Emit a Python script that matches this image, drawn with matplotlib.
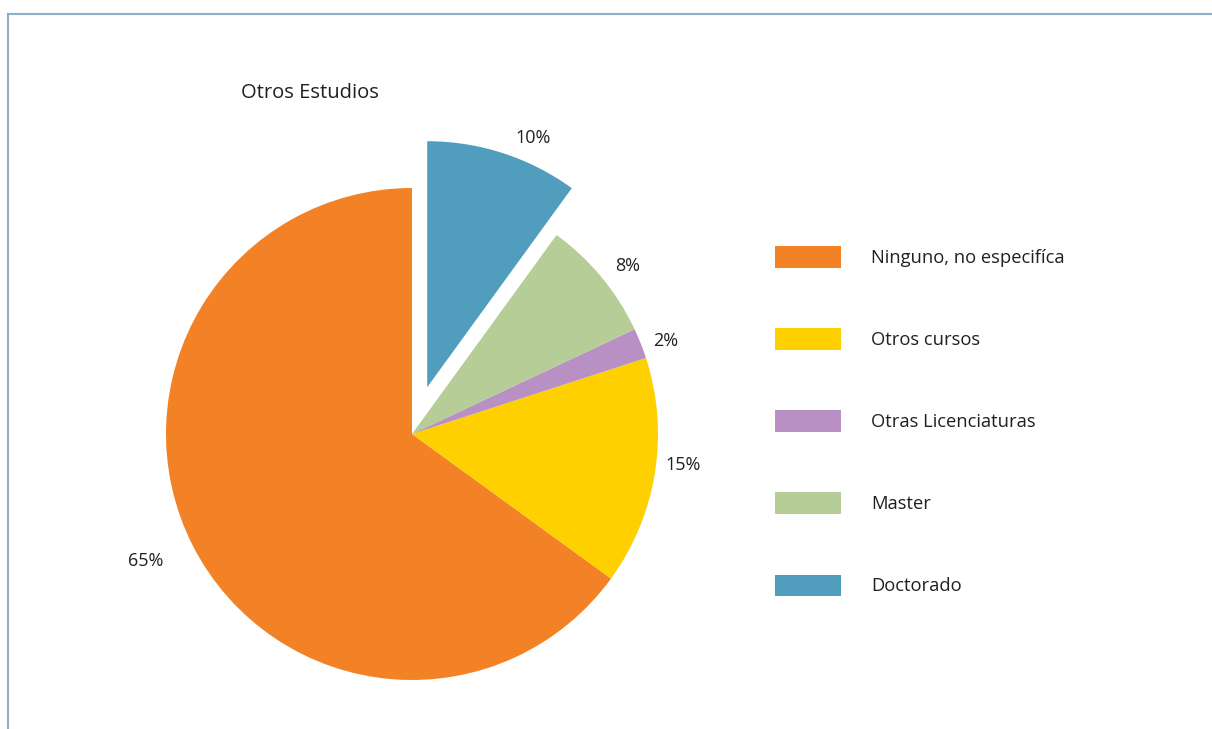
import matplotlib.pyplot as plt
from matplotlib.lines import Line2D
import numpy as np

plt.rcParams['font.family'] = ['Open Sans', 'DejaVu Sans']

# data
categorias = ["Ninguno, no especifíca", "Otros cursos", "Otras Licenciaturas",
              "Master", "Doctorado"]
porcentajes = [65, 15, 2, 8, 10]
colores = ["#F38226", "#FED000", "#B990C3", "#B6CD97", "#519DBE"]
separar = [0, 0, 0, 0, 0.2]
# label placement: distance (radii) and angle nudge (deg) from wedge middle
dist_etiqueta = [1.2, 1.11, 1.1, 1.11, 1.1]
giro_etiqueta = [-1.5, 2.5, -1.4, -1.6, -5]

W, H = 1212, 729
fig = plt.figure(figsize=(W / 100, H / 100), dpi=100)

# pie axes: centre at (412, 434) px, radius 246 px
cx, cy, R = 412, 434, 246
L = 1.45
half = L * R
ax = fig.add_axes([(cx - half) / W, (H - cy - half) / H, 2 * half / W, 2 * half / H])

wedges, _ = ax.pie(porcentajes, colors=colores, explode=separar, startangle=90,
                   counterclock=True, radius=1,
                   wedgeprops=dict(linewidth=0))
ax.set_xlim(-L, L)
ax.set_ylim(-L, L)
ax.axis('off')

# percent labels
for w, p, d, g in zip(wedges, porcentajes, dist_etiqueta, giro_etiqueta):
    ang = np.deg2rad((w.theta1 + w.theta2) / 2 + g)
    x = w.center[0] + d * np.cos(ang)
    y = w.center[1] + d * np.sin(ang)
    ax.text(x, y, f"{p}%", ha='center', va='center', fontsize=13, color='#231F20')

fig.text(310 / W, 1 - 93 / H, "Otros Estudios", ha='center', va='center',
         fontsize=14.5, color='#231F20')

leg = fig.legend(wedges, categorias, loc='upper left',
                 bbox_to_anchor=(766 / W, 1 - 237 / H), frameon=False,
                 fontsize=13.2, handlelength=3.6, handleheight=1.45,
                 handletextpad=1.65, labelspacing=3.29, borderpad=0)
for t in leg.get_texts():
    t.set_color('#231F20')

# frame lines
fc = "#8DB0C6"
fig.add_artist(Line2D([8 / W, 8 / W], [0, 1 - 14 / H], color=fc, lw=1.5,
                      transform=fig.transFigure))
fig.add_artist(Line2D([8 / W, 1], [1 - 14 / H, 1 - 14 / H], color=fc, lw=1.5,
                      transform=fig.transFigure))

fig.savefig("out.png", dpi=100)
